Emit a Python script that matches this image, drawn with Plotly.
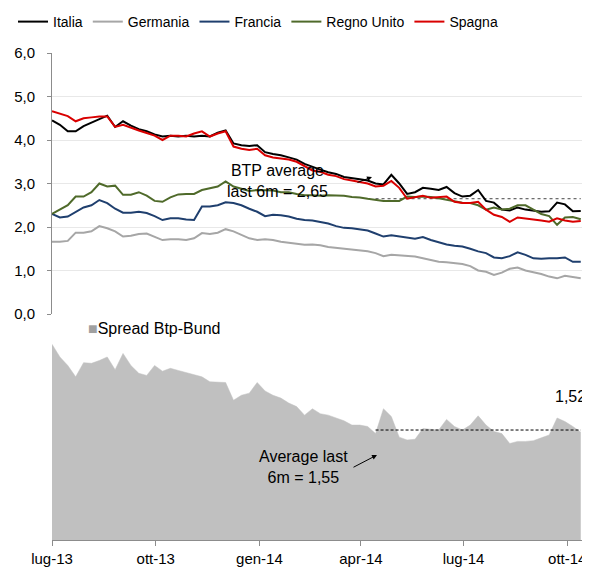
import pandas as pd
import plotly.graph_objects as go

# weekly observation dates (Mondays) from lug-13 to ott-14
dates = pd.date_range("2013-07-01", periods=68, freq="7D")

italia = [4.45, 4.35, 4.2, 4.2, 4.32, 4.4, 4.47, 4.56, 4.3, 4.43, 4.33, 4.25, 4.2, 4.13, 4.08, 4.1,
          4.08, 4.1, 4.08, 4.1, 4.08, 4.17, 4.22, 3.92, 3.88, 3.86, 3.88, 3.72, 3.68, 3.65, 3.6, 3.55,
          3.45, 3.38, 3.32, 3.26, 3.22, 3.15, 3.13, 3.1, 3.07, 3.0, 2.98, 3.2, 3.0, 2.76, 2.8, 2.9,
          2.88, 2.85, 2.92, 2.78, 2.7, 2.72, 2.85, 2.6, 2.56, 2.4, 2.38, 2.45, 2.4, 2.38, 2.35, 2.36,
          2.56, 2.52, 2.36, 2.37]
germania = [1.66, 1.66, 1.68, 1.87, 1.87, 1.9, 2.02, 1.97, 1.9, 1.78, 1.8, 1.84, 1.85, 1.78, 1.7, 1.72,
            1.72, 1.7, 1.74, 1.86, 1.84, 1.87, 1.95, 1.9, 1.82, 1.74, 1.7, 1.72, 1.7, 1.66, 1.64, 1.62,
            1.59, 1.6, 1.58, 1.54, 1.52, 1.5, 1.49, 1.47, 1.44, 1.4, 1.33, 1.36, 1.35, 1.33, 1.32, 1.28,
            1.24, 1.2, 1.19, 1.17, 1.15, 1.1, 1.0, 0.97, 0.9, 0.95, 1.04, 1.07, 1.0, 0.96, 0.92, 0.86,
            0.82, 0.88, 0.85, 0.82]
francia = [2.3, 2.22, 2.24, 2.35, 2.45, 2.5, 2.62, 2.55, 2.42, 2.33, 2.33, 2.35, 2.32, 2.25, 2.16, 2.2,
           2.2, 2.17, 2.16, 2.47, 2.47, 2.5, 2.57, 2.55, 2.5, 2.42, 2.35, 2.25, 2.28, 2.27, 2.24, 2.19,
           2.16, 2.15, 2.12, 2.08, 2.02, 1.98, 1.97, 1.95, 1.92, 1.85, 1.78, 1.81, 1.78, 1.75, 1.73, 1.77,
           1.7, 1.65, 1.6, 1.57, 1.55, 1.5, 1.44, 1.4, 1.3, 1.28, 1.33, 1.42, 1.36, 1.28, 1.27, 1.28,
           1.28, 1.3, 1.2, 1.2]
regno_unito = [2.3, 2.4, 2.5, 2.7, 2.7, 2.8, 3.0, 2.93, 2.95, 2.74, 2.74, 2.8, 2.72, 2.6, 2.58, 2.68,
               2.75, 2.76, 2.76, 2.85, 2.89, 2.93, 3.05, 2.93, 2.88, 2.83, 2.85, 2.85, 2.84, 2.8, 2.8, 2.76,
               2.73, 2.73, 2.72, 2.73, 2.72, 2.72, 2.69, 2.68, 2.65, 2.62, 2.6, 2.6, 2.6, 2.7, 2.69, 2.7,
               2.69, 2.66, 2.63, 2.6, 2.56, 2.55, 2.5, 2.4, 2.45, 2.4, 2.42, 2.5, 2.5, 2.4, 2.3, 2.25,
               2.05, 2.22, 2.23, 2.18]
spagna = [4.66, 4.6, 4.55, 4.43, 4.5, 4.52, 4.54, 4.54, 4.3, 4.35, 4.28, 4.22, 4.16, 4.1, 4.0, 4.1,
          4.1, 4.08, 4.15, 4.2, 4.08, 4.15, 4.2, 3.85, 3.8, 3.77, 3.8, 3.65, 3.6, 3.58, 3.55, 3.5,
          3.4, 3.3, 3.27, 3.2, 3.17, 3.1, 3.07, 3.04, 3.0, 2.93, 2.95, 3.06, 2.9, 2.65, 2.68, 2.72,
          2.67, 2.68, 2.7, 2.58, 2.55, 2.55, 2.58, 2.4, 2.28, 2.23, 2.12, 2.22, 2.2, 2.18, 2.15, 2.12,
          2.2, 2.15, 2.12, 2.14]
spread = [2.76, 2.58, 2.46, 2.3, 2.5, 2.49, 2.53, 2.58, 2.4, 2.63, 2.46, 2.35, 2.32, 2.46, 2.38, 2.42,
          2.39, 2.36, 2.34, 2.3, 2.23, 2.23, 2.22, 1.97, 2.04, 2.07, 2.22, 2.1, 2.04, 2.0, 1.93, 1.88,
          1.76, 1.85, 1.78, 1.76, 1.72, 1.68, 1.62, 1.62, 1.6, 1.5, 1.85, 1.74, 1.45, 1.41, 1.42, 1.57,
          1.56, 1.55, 1.7, 1.6, 1.55, 1.62, 1.75, 1.62, 1.53, 1.5, 1.36, 1.39, 1.39, 1.4, 1.44, 1.48,
          1.72, 1.67, 1.6, 1.52]

btp_avg_6m = 2.65
spread_avg_6m = 1.55
avg_start = "2014-04-14"

tick_dates = ["2013-07-01", "2013-10-01", "2014-01-01", "2014-04-01", "2014-07-01", "2014-10-01"]
tick_labels = ["lug-13", "ott-13", "gen-14", "apr-14", "lug-14", "ott-14"]
y_ticks = [0, 1, 2, 3, 4, 5, 6]

FONT = "Liberation Sans, Arial, sans-serif"

series = [
    ("Italia", italia, "#000000"),
    ("Germania", germania, "#a6a6a6"),
    ("Francia", francia, "#1f3f6e"),
    ("Regno Unito", regno_unito, "#4f6a2a"),
    ("Spagna", spagna, "#d90000"),
]

fig = go.Figure()
fig.add_trace(go.Scatter(x=dates, y=spread, mode="lines", fill="tozeroy",
                         fillcolor="#c0c0c0", line=dict(color="#c0c0c0", width=0.5),
                         name="Spread Btp-Bund", showlegend=False, xaxis="x2", yaxis="y2"))
for name, vals, col in series:
    fig.add_trace(go.Scatter(x=dates, y=vals, mode="lines", name=name,
                             line=dict(color=col, width=2), xaxis="x", yaxis="y"))

# the page body adds an 8px offset, so the figure is drawn 8px smaller
OFF = 8
FW, FH = 590 - OFF, 567 - OFF
L, R, T, B = 52 - OFF, 7, 53 - OFF, 27
PW, PH = FW - L - R, FH - T - B


def px(x):
    return (x - 52) / PW


def py(y):
    return (540 - y) / PH


x_range = ["2013-07-01", "2014-10-15"]
fig.update_layout(
    width=FW, height=FH,
    margin=dict(l=L, r=R, t=T, b=B, autoexpand=False),
    paper_bgcolor="white", plot_bgcolor="white",
    separators=",.",
    font=dict(family=FONT, size=15, color="#000000"),
    xaxis=dict(domain=[0, 1], range=x_range, anchor="y", showticklabels=False,
               showgrid=False, showline=False, ticks="", zeroline=False, matches="x2"),
    yaxis=dict(domain=[py(314), 1], range=[0, 6], tickvals=y_ticks, tickformat=".1f",
               showgrid=True, gridcolor="#e8e8e8", gridwidth=1, zeroline=False,
               showline=True, linecolor="#8c8c8c", linewidth=1, ticklabelstandoff=9,
               ticks="outside", ticklen=4, tickcolor="#8c8c8c", tickfont=dict(size=15)),
    xaxis2=dict(domain=[0, 1], range=x_range, anchor="y2", tickvals=tick_dates, ticktext=tick_labels,
                showgrid=False, showline=True, linecolor="#8c8c8c", linewidth=1,
                ticks="outside", ticklen=5, tickcolor="#8c8c8c", zeroline=False,
                tickfont=dict(size=15)),
    yaxis2=dict(domain=[0, py(330)], range=[0, 2.96], visible=False),
    legend=dict(orientation="h", x=px(13), y=py(6), xanchor="left", yanchor="top",
                font=dict(size=14), itemwidth=30, tracegroupgap=0, bgcolor="rgba(0,0,0,0)"),
    shapes=[
        dict(type="line", xref="x", yref="y", x0=avg_start, x1=dates[-1], y0=btp_avg_6m, y1=btp_avg_6m,
             line=dict(color="#444444", width=1, dash="dot"), layer="below"),
        dict(type="line", xref="x2", yref="y2", x0=avg_start, x1=dates[-1], y0=spread_avg_6m,
             y1=spread_avg_6m, line=dict(color="#000000", width=1, dash="3px,2px"), layer="above"),
    ],
    annotations=[
        dict(xref="paper", yref="paper", x=px(86), y=py(328), xanchor="left",
             yanchor="middle", showarrow=False,
             text="<span style='color:#a0a0a0'>■</span>Spread Btp-Bund", font=dict(size=16)),
        dict(xref="paper", yref="paper", x=px(277), y=py(181), xanchor="center",
             yanchor="middle", showarrow=False, text="BTP average<br>last 6m = 2,65",
             font=dict(size=16)),
        dict(xref="paper", yref="paper", x=px(372), y=py(177), ax=-16, ay=6,
             showarrow=True, arrowhead=2, arrowsize=1, arrowwidth=1, arrowcolor="#000000", text=""),
        dict(xref="paper", yref="paper", x=px(303), y=py(467), xanchor="center",
             yanchor="middle", showarrow=False, text="Average last<br>6m = 1,55", font=dict(size=16)),
        dict(xref="paper", yref="paper", x=px(377), y=py(455), ax=-25, ay=13,
             showarrow=True, arrowhead=2, arrowsize=1, arrowwidth=1, arrowcolor="#000000", text=""),
        dict(xref="paper", yref="paper", x=px(588), y=py(396), xanchor="right",
             yanchor="middle", showarrow=False, text="1,52", font=dict(size=16)),
    ],
)

fig.write_html("out.html")
